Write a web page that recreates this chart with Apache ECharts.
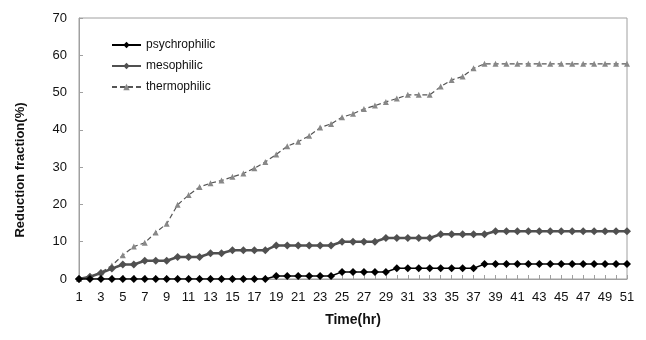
<!DOCTYPE html>
<html>
<head>
<meta charset="utf-8">
<script src="https://cdn.jsdelivr.net/npm/echarts@6/dist/echarts.min.js"></script>
<style>
  html, body { margin: 0; padding: 0; background: #fff; }
  #main { width: 646px; height: 340px; }
</style>
</head>
<body>
<div id="main"></div>
<script>
// hours 1..51
const hours = [];
for (let h = 1; h <= 51; h++) hours.push(String(h));

const psychrophilic = [
  0, 0, 0, 0, 0, 0, 0, 0, 0, 0,
  0, 0, 0, 0, 0, 0, 0, 0, 0.8, 0.8,
  0.8, 0.8, 0.8, 0.8, 1.9, 1.9, 1.9, 1.9, 1.9, 2.9,
  2.9, 2.9, 2.9, 2.9, 2.9, 2.9, 2.9, 4, 4, 4,
  4, 4, 4, 4, 4, 4, 4, 4, 4, 4,
  4
];
const mesophilic = [
  0, 0.6, 1.6, 2.8, 3.9, 3.9, 4.9, 4.9, 4.9, 5.9,
  5.9, 5.9, 6.9, 6.9, 7.7, 7.7, 7.7, 7.7, 9, 9,
  9, 9, 9, 9, 10, 10, 10, 10, 11, 11,
  11, 11, 11, 12, 12, 12, 12, 12, 12.8, 12.8,
  12.8, 12.8, 12.8, 12.8, 12.8, 12.8, 12.8, 12.8, 12.8, 12.8,
  12.8
];
const thermophilic = [
  0, 0.6, 1.8, 3.6, 6.4, 8.7, 9.7, 12.5, 14.8, 19.9,
  22.5, 24.7, 25.7, 26.4, 27.4, 28.3, 29.7, 31.4, 33.4, 35.6,
  36.8, 38.4, 40.6, 41.6, 43.4, 44.3, 45.6, 46.5, 47.5, 48.4,
  49.4, 49.4, 49.4, 51.6, 53.4, 54.3, 56.5, 57.7, 57.7, 57.7,
  57.7, 57.7, 57.7, 57.7, 57.7, 57.7, 57.7, 57.7, 57.7, 57.7,
  57.7
];

const font = 'Liberation Sans, Arial, sans-serif';
const chart = echarts.init(document.getElementById('main'));

chart.setOption({
  animation: false,
  backgroundColor: '#fff',
  textStyle: { fontFamily: font },
  grid: {
    left: 79, right: 19, top: 18, bottom: 61,
    show: true, borderColor: '#a0a0a0', borderWidth: 1
  },
  legend: {
    orient: 'vertical',
    left: 106, top: 34,
    itemWidth: 29, itemHeight: 8,
    itemGap: 9,
    textStyle: { fontSize: 12, color: '#111', fontFamily: font },
    data: ['psychrophilic', 'mesophilic', 'thermophilic']
  },
  xAxis: {
    type: 'category',
    data: hours,
    boundaryGap: false,
    name: 'Time(hr)',
    nameLocation: 'middle',
    nameGap: 34,
    nameTextStyle: { fontSize: 14, fontWeight: 'bold', color: '#111', fontFamily: font },
    axisLine: { lineStyle: { color: '#a0a0a0' } },
    axisTick: { inside: true, interval: 0, length: 4, lineStyle: { color: '#a0a0a0' } },
    axisLabel: { interval: 1, fontSize: 13, color: '#111', margin: 12, fontFamily: font },
    splitLine: { show: false }
  },
  yAxis: {
    type: 'value',
    min: 0, max: 70, interval: 10,
    axisLine: { show: true, lineStyle: { color: '#a0a0a0' } },
    axisTick: { show: true, inside: true, length: 4, lineStyle: { color: '#a0a0a0' } },
    axisLabel: { fontSize: 13, color: '#111', margin: 12, fontFamily: font },
    splitLine: { show: false }
  },
  graphic: [{
    type: 'text',
    x: 20, y: 170,
    rotation: Math.PI / 2,
    style: {
      text: 'Reduction fraction(%)',
      font: 'bold 13px ' + font,
      fill: '#111',
      align: 'center',
      verticalAlign: 'middle'
    }
  }],
  series: [
    {
      name: 'psychrophilic',
      type: 'line',
      data: psychrophilic,
      showAllSymbol: true,
      symbol: 'diamond',
      symbolSize: 8,
      color: '#000',
      lineStyle: { width: 1.5, color: '#000' },
      itemStyle: { color: '#000' },
      z: 4
    },
    {
      name: 'mesophilic',
      type: 'line',
      data: mesophilic,
      showAllSymbol: true,
      symbol: 'diamond',
      symbolSize: 8,
      color: '#505050',
      lineStyle: { width: 2.5, color: '#505050' },
      itemStyle: { color: '#505050' },
      z: 3
    },
    {
      name: 'thermophilic',
      type: 'line',
      data: thermophilic,
      showAllSymbol: true,
      symbol: 'triangle',
      symbolSize: 6,
      color: '#7a7a7a',
      lineStyle: { width: 1.2, color: '#555', type: [5, 3] },
      itemStyle: { color: '#888' },
      z: 2
    }
  ]
});
</script>
</body>
</html>
